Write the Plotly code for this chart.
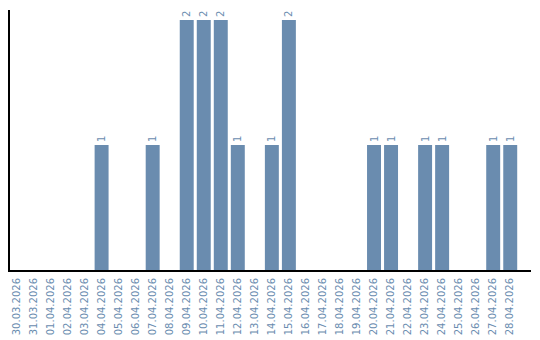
import plotly.graph_objects as go

dates = ["30.03.2026", "31.03.2026", "01.04.2026", "02.04.2026", "03.04.2026",
         "04.04.2026", "05.04.2026", "06.04.2026", "07.04.2026", "08.04.2026",
         "09.04.2026", "10.04.2026", "11.04.2026", "12.04.2026", "13.04.2026",
         "14.04.2026", "15.04.2026", "16.04.2026", "17.04.2026", "18.04.2026",
         "19.04.2026", "20.04.2026", "21.04.2026", "22.04.2026", "23.04.2026",
         "24.04.2026", "25.04.2026", "26.04.2026", "27.04.2026", "28.04.2026"]
counts = [0, 0, 0, 0, 0, 1, 0, 0, 1, 0, 2, 2, 2, 1, 0, 1, 2, 0, 0, 0,
          0, 1, 1, 0, 1, 1, 0, 0, 1, 1]
labels = [str(c) if c else "" for c in counts]

color = "#6a8caf"
fig = go.Figure(go.Bar(
    x=dates, y=counts, text=labels, textposition="outside", textangle=-90,
    textfont=dict(family="DejaVu Sans", size=10, color=color),
    marker=dict(color=color, line=dict(width=0)), width=0.82, cliponaxis=False,
))
fig.update_layout(
    width=540, height=340, margin=dict(l=10, r=9, t=10, b=70),
    plot_bgcolor="white", paper_bgcolor="white", showlegend=False,
    bargap=0.18,
    uniformtext=dict(minsize=1),
)
fig.update_xaxes(type="category", range=[-0.38, 30.22], tickangle=-90,
                 tickfont=dict(family="DejaVu Sans", size=10, color=color),
                 ticklabelstandoff=2, automargin=False,
                 showline=True, linecolor="black", linewidth=2, ticks="",
                 showgrid=False)
fig.update_yaxes(range=[0, 2.08], showticklabels=False, showgrid=False,
                 showline=True, linecolor="black", linewidth=2, ticks="",
                 zeroline=False, automargin=False)
fig.write_html("out.html")
